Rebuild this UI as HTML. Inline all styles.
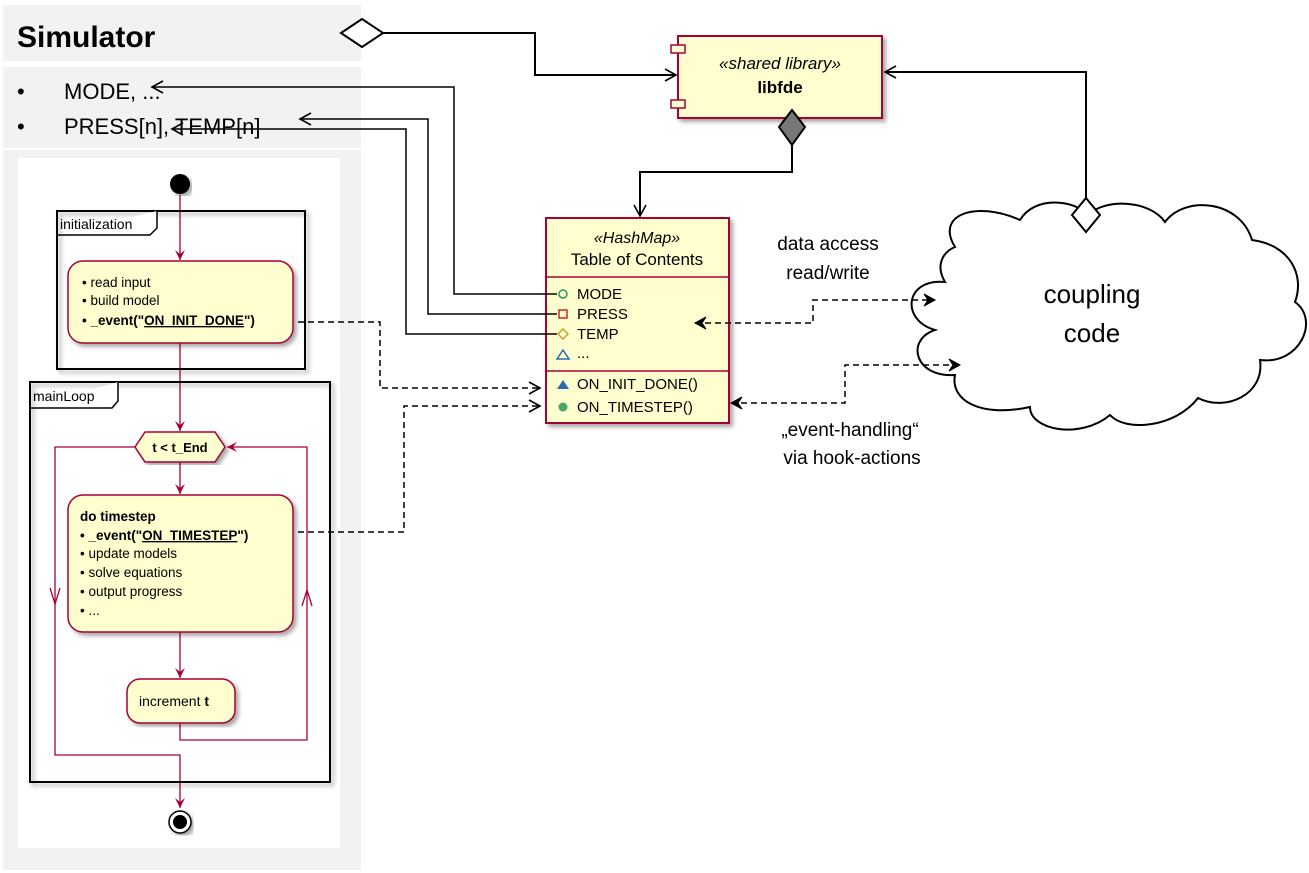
<!DOCTYPE html>
<html><head><meta charset="utf-8"><style>body{margin:0;background:#fff}svg{display:block}</style></head><body>
<svg width="1309" height="873" viewBox="0 0 1309 873" xmlns="http://www.w3.org/2000/svg" font-family="'Liberation Sans', 'DejaVu Sans', sans-serif">
<defs>
<marker id="oa" markerWidth="14" markerHeight="14" refX="12" refY="7" orient="auto" markerUnits="userSpaceOnUse"><path d="M1,1 L12,7 L1,13" fill="none" stroke="#000" stroke-width="1.6"/></marker>
<marker id="oad" markerWidth="14" markerHeight="14" refX="12" refY="7" orient="auto-start-reverse" markerUnits="userSpaceOnUse"><path d="M1,1 L12,7 L1,13 L5,7 Z" fill="#000" stroke="#000" stroke-width="1"/></marker>
<marker id="ra" markerWidth="12" markerHeight="12" refX="10" refY="6" orient="auto" markerUnits="userSpaceOnUse"><path d="M0,1 L10,6 L0,11 L4,6 Z" fill="#a80036"/></marker>
<filter id="sh"><feDropShadow dx="3" dy="3" stdDeviation="2" flood-opacity="0.35"/></filter>
</defs>
<!-- left panel -->
<rect x="3" y="5" width="358" height="56" fill="#f2f2f2"/>
<rect x="3" y="67" width="358" height="81" fill="#f2f2f2"/>
<rect x="3" y="150" width="358" height="720" fill="#f2f2f2"/>
<rect x="18" y="158" width="322" height="690" fill="#fff"/>
<text x="17" y="47" font-size="30" font-weight="bold">Simulator</text>
<text x="17" y="99" font-size="22">•</text><text x="64" y="99" font-size="22">MODE, ...</text>
<text x="17" y="134" font-size="22">•</text><text x="64" y="134" font-size="22">PRESS[n], TEMP[n]</text>

<!-- activity -->
<g stroke="#a80036" stroke-width="1.3" fill="none">
<line x1="180" y1="195" x2="180" y2="260" marker-end="url(#ra)"/>
<line x1="180" y1="343" x2="180" y2="431" marker-end="url(#ra)"/>
<line x1="180" y1="462" x2="180" y2="494" marker-end="url(#ra)"/>
<line x1="180" y1="632" x2="180" y2="678" marker-end="url(#ra)"/>
<polyline points="180,723 180,740 307,740 307,447 227,447" marker-end="url(#ra)"/>
<polyline points="135,447 55,447 55,755 180,755 180,808" marker-end="url(#ra)"/>
<path d="M302,606 L307,590 L312,606" />
<path d="M50,588 L55,604 L60,588" />
</g>
<circle cx="180" cy="184" r="10" fill="#000" filter="url(#sh)"/>
<rect x="57" y="211" width="248" height="158" fill="none" stroke="#000" stroke-width="2" filter="url(#sh)"/>
<path d="M57,235 L150,235 L157,228 L157,211" fill="#fff" stroke="#000" stroke-width="1.5"/>
<text x="60" y="229" font-size="14">initialization</text>
<rect x="68" y="261" width="225" height="82" rx="15" fill="#fefece" stroke="#a80036" stroke-width="1.5" filter="url(#sh)"/>
<g font-size="13.5"><text x="82" y="287">• read input</text><text x="82" y="305">• build model</text>
<text x="82" y="325" font-weight="bold">• _event("<tspan text-decoration="underline">ON_INIT_DONE</tspan>")</text></g>
<rect x="30" y="382" width="300" height="400" fill="none" stroke="#000" stroke-width="2" filter="url(#sh)"/>
<path d="M30,408 L112,408 L118,401 L118,382" fill="#fff" stroke="#000" stroke-width="1.5"/>
<text x="33" y="401" font-size="14">mainLoop</text>
<polygon points="135,447 145,432 215,432 225,447 215,462 145,462" fill="#fefece" stroke="#a80036" stroke-width="1.5" filter="url(#sh)"/>
<text x="180" y="452" font-size="13" font-weight="bold" text-anchor="middle">t &lt; t_End</text>
<rect x="68" y="495" width="225" height="137" rx="15" fill="#fefece" stroke="#a80036" stroke-width="1.5" filter="url(#sh)"/>
<g font-size="13.5"><text x="80" y="521" font-weight="bold">do timestep</text>
<text x="80" y="540" font-weight="bold">• _event("<tspan text-decoration="underline">ON_TIMESTEP</tspan>")</text>
<text x="80" y="558">• update models</text><text x="80" y="577">• solve equations</text><text x="80" y="596">• output progress</text><text x="80" y="615">• ...</text></g>
<rect x="127" y="679" width="108" height="44" rx="13" fill="#fefece" stroke="#a80036" stroke-width="1.5" filter="url(#sh)"/>
<text x="139" y="706" font-size="14">increment <tspan font-weight="bold">t</tspan></text>
<circle cx="180" cy="822" r="11" fill="#fff" stroke="#000" stroke-width="1.5" filter="url(#sh)"/>
<circle cx="180" cy="822" r="7" fill="#000"/>

<!-- cloud -->
<path d="M955,247 C935,215 975,200 1020,220 C1035,195 1075,200 1088,215 C1105,198 1150,200 1165,222 C1185,195 1240,200 1252,240 C1290,245 1305,275 1295,302 C1320,320 1300,365 1260,360 C1265,395 1225,412 1198,398 C1175,428 1125,432 1110,415 C1080,440 1030,430 1030,407 C980,418 950,400 955,375 C915,378 905,340 935,330 C900,320 905,278 945,282 C935,265 943,252 955,247 Z" fill="#fff" stroke="#000" stroke-width="2"/>
<text x="1092" y="303" font-size="26" text-anchor="middle">coupling</text>
<text x="1092" y="342" font-size="26" text-anchor="middle">code</text>

<!-- libfde -->
<rect x="678" y="36" width="204" height="82" fill="#fefece" stroke="#a80036" stroke-width="2" filter="url(#sh)"/>
<rect x="671" y="45" width="14" height="8" fill="#fefece" stroke="#a80036" stroke-width="1.5"/>
<rect x="671" y="100" width="14" height="8" fill="#fefece" stroke="#a80036" stroke-width="1.5"/>
<text x="780" y="69" font-size="17" font-style="italic" text-anchor="middle">«shared library»</text>
<text x="780" y="93" font-size="17" font-weight="bold" text-anchor="middle">libfde</text>

<!-- table -->
<rect x="546" y="218" width="183" height="205" fill="#fefece" stroke="#a80036" stroke-width="2" filter="url(#sh)"/>
<line x1="546" y1="277" x2="729" y2="277" stroke="#a80036" stroke-width="1.5"/>
<line x1="546" y1="371" x2="729" y2="371" stroke="#a80036" stroke-width="1.5"/>
<text x="637" y="243" font-size="16" font-style="italic" text-anchor="middle">«HashMap»</text>
<text x="637" y="265" font-size="17" text-anchor="middle">Table of Contents</text>
<g font-size="15">
<text x="577" y="299">MODE</text><text x="577" y="319">PRESS</text><text x="577" y="339">TEMP</text><text x="577" y="358">...</text>
<text x="577" y="389">ON_INIT_DONE()</text><text x="577" y="412">ON_TIMESTEP()</text></g>
<circle cx="563" cy="294" r="4" fill="none" stroke="#2a9a58" stroke-width="1.5"/>
<rect x="559" y="310" width="8" height="8" fill="none" stroke="#c82828" stroke-width="1.5"/>
<polygon points="563,329 568,334 563,339 558,334" fill="none" stroke="#c8a030" stroke-width="1.5"/>
<polygon points="557,359 563,350 569,359" fill="none" stroke="#2a6cb0" stroke-width="1.5"/>
<polygon points="557,389 563,380 569,389" fill="#2a6cb0"/>
<circle cx="563" cy="407" r="4.5" fill="#48a868"/>

<!-- connectors solid -->
<g stroke="#000" stroke-width="2" fill="none">
<polygon points="341,33 362,19 383,33 362,47" fill="#fff"/>
<polyline points="383,33 535,33 535,75 676,75" marker-end="url(#oa)"/>
<polyline points="792,145 792,172 640,172 640,216" marker-end="url(#oa)"/>
<polyline points="1086,198 1086,72 885,72" marker-end="url(#oa)"/>
</g>
<polygon points="792,110 805,127 792,145 779,127" fill="#777" stroke="#000" stroke-width="2"/>
<polygon points="1086,198 1100,215 1086,232 1072,215" fill="#fff" stroke="#000" stroke-width="2"/>
<g stroke="#000" stroke-width="1.5" fill="none">
<polyline points="557,294 454,294 454,87 152,87" marker-end="url(#oa)"/>
<polyline points="557,314 428,314 428,119 300,119" marker-end="url(#oa)"/>
<polyline points="557,334 406,334 406,129 172,129" marker-end="url(#oa)"/>
</g>
<g stroke="#000" stroke-width="1.5" fill="none" stroke-dasharray="6,4">
<polyline points="298,322 380,322 380,388 540,388" marker-end="url(#oa)"/>
<polyline points="298,532 404,532 404,406 540,406" marker-end="url(#oa)"/>
<polyline points="695,323 813,323 813,300 935,300" marker-start="url(#oad)" marker-end="url(#oad)"/>
<polyline points="731,403 845,403 845,365 960,365" marker-start="url(#oad)" marker-end="url(#oad)"/>
</g>

<!-- labels -->
<g font-size="19" text-anchor="middle">
<text x="828" y="250">data access</text><text x="828" y="279">read/write</text>
<text x="850" y="436">„event-handling“</text><text x="852" y="464">via hook-actions</text></g>
</svg>
</body></html>
